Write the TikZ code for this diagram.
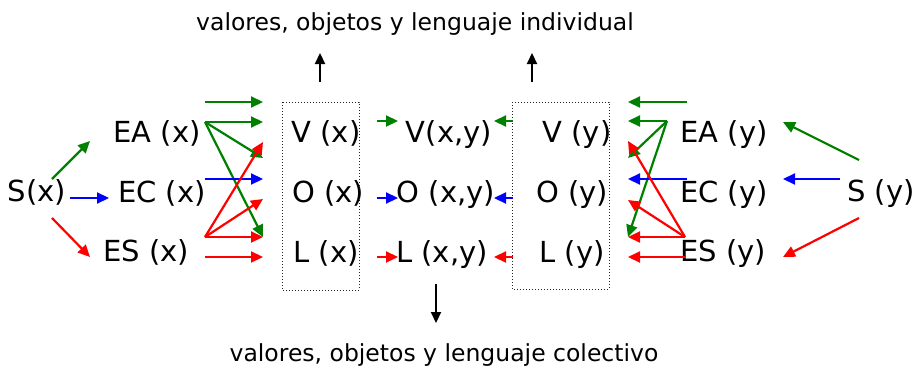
\documentclass[tikz,border=0pt]{standalone}
\usepackage{fontspec}
\setmainfont{DejaVu Sans}
\usetikzlibrary{arrows.meta}
\definecolor{cgreen}{RGB}{0,128,0}
\definecolor{cblue}{RGB}{0,0,255}
\definecolor{cred}{RGB}{255,0,0}
\tikzset{
  lbl/.style={anchor=base, inner sep=0pt, font=\fontsize{29}{32}\selectfont},
  captxt/.style={anchor=base, inner sep=0pt, font=\fontsize{23.5}{27}\selectfont},
  arr/.style={line width=2.2pt, -{Triangle[length=12pt,width=11pt]}},
  ga/.style={arr, draw=cgreen, fill=cgreen},
  ba/.style={arr, draw=cblue, fill=cblue},
  ra/.style={arr, draw=cred, fill=cred},
  ka/.style={line width=2.2pt, -{Triangle[length=11pt,width=10pt]}, draw=black},
  dbox/.style={draw=black!85, dotted, line width=1pt}
}
\begin{document}
\begin{tikzpicture}[x=1pt,y=-1pt]
\useasboundingbox (0,0) rectangle (916,367);
% captions
\node[captxt] (top) at (415,30) {valores, objetos y lenguaje individual};
\node[captxt] (bot) at (444,361) {valores, objetos y lenguaje colectivo};
% boxes
\draw[dbox] (282,102) rectangle (359,290);
\draw[dbox] (512,102) rectangle (609,289);
\coordinate (boxL) at (320,82);
\coordinate (boxR) at (532,82);
\coordinate (upL) at (320,53);
\coordinate (upR) at (532,53);
\coordinate (mid) at (436,284);
\coordinate (down) at (436,323);
\draw[ka] (boxL) -- (upL);
\draw[ka] (boxR) -- (upR);
\draw[ka] (mid) -- (down);
% left labels
\node[lbl] (Sx) at (37,201) {S(x)};
\node[lbl] (EAx) at (157,142) {EA (x)};
\node[lbl] (ECx) at (162,202) {EC (x)};
\node[lbl] (ESx) at (146,261) {ES (x)};
\node[lbl] (Vx) at (326,142) {V (x)};
\node[lbl] (Ox) at (328,202) {O (x)};
\node[lbl] (Lx) at (326,262) {L (x)};
% middle labels
\node[lbl] (Vxy) at (449,142) {V(x,y)};
\node[lbl] (Oxy) at (446,202) {O (x,y)};
\node[lbl] (Lxy) at (442,262) {L (x,y)};
% right labels
\node[lbl] (Vy) at (577,142) {V (y)};
\node[lbl] (Oy) at (572,202) {O (y)};
\node[lbl] (Ly) at (572,262) {L (y)};
\node[lbl] (EAy) at (724,142) {EA (y)};
\node[lbl] (ECy) at (724,202) {EC (y)};
\node[lbl] (ESy) at (723,261) {ES (y)};
\node[lbl] (Sy) at (881,201) {S (y)};
% S(x) arrows
\coordinate (sx1) at (52,179); \coordinate (sx1t) at (90,141);
\coordinate (sx2) at (70,198); \coordinate (sx2t) at (109,198);
\coordinate (sx3) at (52,218); \coordinate (sx3t) at (90,257);
\draw[ga] (sx1) -- (sx1t);
\draw[ba] (sx2) -- (sx2t);
\draw[ra] (sx3) -- (sx3t);
% left fan
\coordinate (lF) at (205,102);
\coordinate (lA) at (205,122);
\coordinate (lC) at (205,179);
\coordinate (lS) at (205,237);
\coordinate (lS2) at (205,257);
\coordinate (t1) at (263,102);
\coordinate (t2) at (263,122);
\coordinate (t3) at (263,142);
\coordinate (t4) at (263,158);
\coordinate (t5) at (263,179);
\coordinate (t6) at (263,199);
\coordinate (t7) at (263,237);
\coordinate (t8) at (263,257);
\draw[ga] (lF) -- (t1);
\draw[ga] (lA) -- (t2);
\draw[ga] (lA) -- (t4);
\draw[ga] (lA) -- (t7);
\draw[ba] (lC) -- (t5);
\draw[ra] (lS) -- (t3);
\draw[ra] (lS) -- (t6);
\draw[ra] (lS) -- (t7);
\draw[ra] (lS2) -- (t8);
% middle short arrows
\coordinate (m1) at (377,121); \coordinate (m1t) at (398,121);
\coordinate (m2) at (377,198); \coordinate (m2t) at (398,198);
\coordinate (m3) at (377,257); \coordinate (m3t) at (398,257);
\coordinate (n1) at (513,121); \coordinate (n1t) at (494,121);
\coordinate (n2) at (513,198); \coordinate (n2t) at (494,198);
\coordinate (n3) at (513,257); \coordinate (n3t) at (494,257);
\draw[ga] (m1) -- (m1t);
\draw[ba] (m2) -- (m2t);
\draw[ra] (m3) -- (m3t);
\draw[ga] (n1) -- (n1t);
\draw[ba] (n2) -- (n2t);
\draw[ra] (n3) -- (n3t);
% right fan
\coordinate (rF) at (687,102);
\coordinate (rA) at (667,121);
\coordinate (rC) at (687,179);
\coordinate (rS) at (685,237);
\coordinate (rS2) at (685,257);
\coordinate (u1) at (628,102);
\coordinate (u2) at (628,121);
\coordinate (u3) at (628,141);
\coordinate (u4) at (628,158);
\coordinate (u5) at (628,179);
\coordinate (u6) at (628,200);
\coordinate (u7) at (628,237);
\coordinate (u8) at (628,257);
\draw[ga] (rF) -- (u1);
\draw[ga] (rA) -- (u2);
\draw[ga] (rA) -- (u4);
\draw[ga] (rA) -- (u7);
\draw[ba] (rC) -- (u5);
\draw[ra] (rS) -- (u3);
\draw[ra] (rS) -- (u6);
\draw[ra] (rS) -- (u7);
\draw[ra] (rS2) -- (u8);
% S(y) arrows
\coordinate (sy1) at (859,160); \coordinate (sy1t) at (783,122);
\coordinate (sy2) at (840,179); \coordinate (sy2t) at (783,179);
\coordinate (sy3) at (859,218); \coordinate (sy3t) at (783,257);
\draw[ga] (sy1) -- (sy1t);
\draw[ba] (sy2) -- (sy2t);
\draw[ra] (sy3) -- (sy3t);
\end{tikzpicture}
\end{document}
